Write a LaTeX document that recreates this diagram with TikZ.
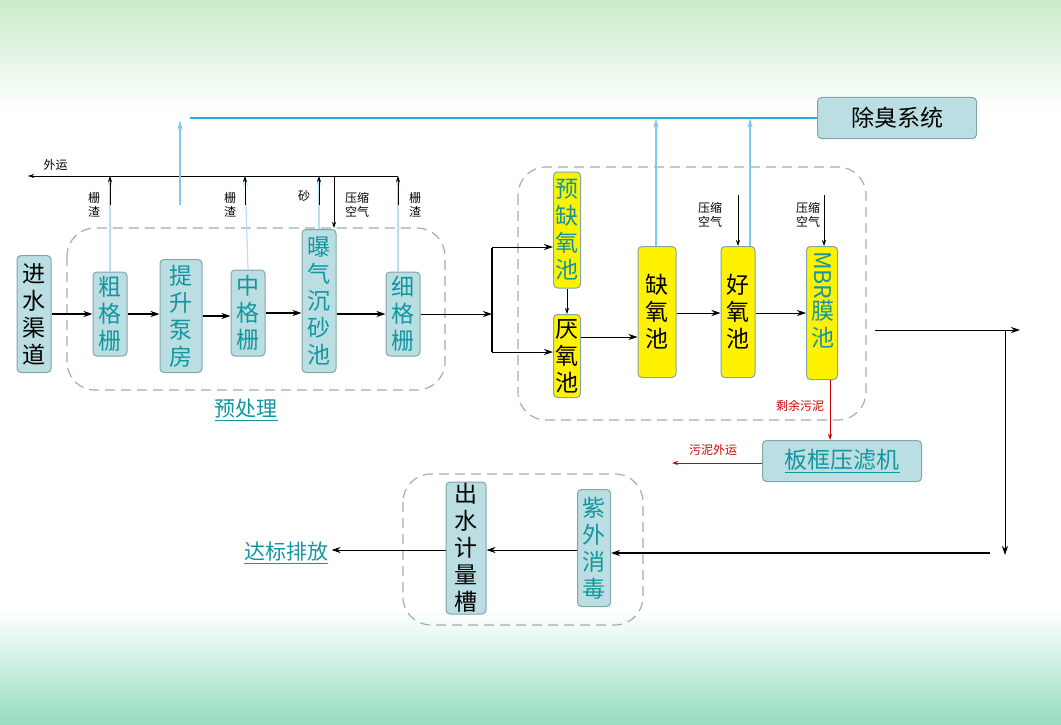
\documentclass[tikz,border=0pt]{standalone}
\usepackage{fontspec}
\setmainfont{Noto Sans CJK SC}
\usetikzlibrary{arrows.meta}
\usetikzlibrary{positioning}
\definecolor{boxfill}{RGB}{186,222,226}
\definecolor{boxline}{RGB}{130,165,170}
\definecolor{tealtext}{RGB}{20,150,160}
\definecolor{dashgray}{RGB}{160,175,178}
\definecolor{skyblue}{RGB}{40,170,225}
\definecolor{bgtop}{RGB}{200,235,200}
\definecolor{bgbot}{RGB}{150,220,190}

\tikzset{
  unit/.style={draw=boxline, fill=boxfill, rounded corners=4pt, line width=1pt, inner sep=0pt, align=center, font=\fontsize{23}{27}\selectfont},
  pool/.style={unit, fill=yellow},
  group/.style={draw=dashgray, dashed, dash pattern=on 10pt off 6pt, line width=1.2pt, rounded corners=28pt},
  flow/.style={-{Stealth[length=9pt,width=6pt]}, line width=1.4pt},
  thin/.style={-{Stealth[length=6pt,width=4pt]}, line width=0.7pt},
  air/.style={-{Stealth[length=10pt,width=5pt]}, draw=skyblue!60, line width=1.2pt},
  small/.style={font=\fontsize{12}{14}\selectfont, align=center},
}

\begin{document}
\begin{tikzpicture}[x=1pt,y=-1pt]
\useasboundingbox (0,0) rectangle (1061,725);
% background
\shade[top color=bgtop, bottom color=white] (0,0) rectangle (1061,110);
\shade[top color=white, bottom color=bgbot] (0,610) rectangle (1061,725);

% groups
\draw[group] (67,228) rectangle (445,390);
\draw[group] (518,167) rectangle (866,420);
\draw[group] (403,474) rectangle (643,625);

% pretreatment units
\node[unit, minimum width=34pt, minimum height=117pt] (inlet) at (34,314) {进\\水\\渠\\道};
\node[unit, minimum width=34pt, minimum height=84pt, text=tealtext] (coarse) at (110,314) {粗\\格\\栅};
\node[unit, minimum width=42pt, minimum height=113pt, text=tealtext] (pump) at (181,316) {提\\升\\泵\\房};
\node[unit, minimum width=34pt, minimum height=86pt, text=tealtext] (medium) at (248,313) {中\\格\\栅};
\node[unit, minimum width=34pt, minimum height=143pt, text=tealtext] (grit) at (319,301) {曝\\气\\沉\\砂\\池};
\node[unit, minimum width=34pt, minimum height=84pt, text=tealtext] (fine) at (403,314) {细\\格\\栅};
\node[font=\fontsize{21}{25}\selectfont, text=tealtext] (pre) at (246,410) {\underline{预处理}};

% biological units
\node[pool, minimum width=27pt, minimum height=116pt, text=tealtext] (preanox) at (567,230) {预\\缺\\氧\\池};
\node[pool, minimum width=27pt, minimum height=83pt] (anaer) at (567,356) {厌\\氧\\池};
\node[pool, minimum width=38pt, minimum height=131pt] (anox) at (657,312) {缺\\氧\\池};
\node[pool, minimum width=34pt, minimum height=131pt] (oxic) at (738,312) {好\\氧\\池};
\node[pool, minimum width=31pt, minimum height=133pt] (mbr) at (822,313) {};
\node[rotate=-90, anchor=west, text=tealtext, inner sep=0pt, font=\fontsize{23}{27}\selectfont] (mbrtext) at (823,251) {MBR};
\node[below=0pt of mbrtext.east, anchor=north, text=tealtext, align=center, inner sep=0pt, font=\fontsize{23}{27}\selectfont] (mbrpool) {膜\\池};

% sludge and deodor
\node[unit, minimum width=159pt, minimum height=41pt] (deodor) at (897,118) {除臭系统};
\node[unit, minimum width=159pt, minimum height=41pt, text=tealtext] (press) at (842,461) {\underline{板框压滤机}};

% effluent
\node[unit, minimum width=40pt, minimum height=132pt] (meter) at (466,548) {出\\水\\计\\量\\槽};
\node[unit, minimum width=33pt, minimum height=117pt, text=tealtext] (uv) at (594,548) {紫\\外\\消\\毒};
\node[font=\fontsize{21}{25}\selectfont, text=tealtext] (out) at (286,553) {\underline{达标排放}};

% helper coordinates
\coordinate (split) at (492,314);
\coordinate (haul) at (28,176);
\coordinate (haulend) at (398,176);
\coordinate (duct) at (190,118);
\coordinate (east) at (1020,330);
\coordinate (down) at (1005,555);
\coordinate (sludgeout) at (672,463);

% main flow
\draw[flow] (inlet) -- (coarse);
\draw[flow] (coarse) -- (pump.west |- coarse);
\draw[flow] (pump) -- (medium.west |- pump);
\draw[flow] (medium) -- (grit.west |- medium);
\draw[flow] (grit.east |- fine) -- (fine);
\draw[flow, line width=1pt] (fine) -- (split);
\draw[line width=1.4pt] (492,248) -- (492,352);
\draw[flow, line width=1pt] (492,247) -- (preanox.west |- 0,247);
\draw[flow, line width=1pt] (492,352) -- (anaer.west |- 0,352);
\draw[thin] (preanox) -- (anaer);
\draw[flow, line width=1pt] (anaer.east |- 0,337) -- (anox.west |- 0,337);
\draw[flow, line width=1pt] (anox.east |- 0,313) -- (oxic.west |- 0,313);
\draw[flow, line width=1pt] (oxic.east |- 0,313) -- (mbr.west |- 0,313);
\draw[flow, line width=1pt] (875,330) -- (east);
\draw[flow, line width=1pt] (1005,330) -- (down);
\draw[flow] (990,553) -- (uv.east |- 0,553);
\draw[flow, line width=1pt] (uv.west |- 0,550) -- (meter.east |- 0,550);
\draw[flow, line width=1pt] (meter.west |- 0,550) -- (out.east |- 0,550);

% screenings hauled away
\draw[thin] (haulend) -- (haul) node[above right=2pt and 12pt, small] {外运};
\draw[air, draw=skyblue!35] (coarse.north) -- (110,176);
\draw[thin] (110,205) -- (110,176);
\draw[air, draw=skyblue!35] (medium.north) -- (245,176);
\draw[thin] (245,205) -- (245,176);
\draw[air, draw=skyblue!35] (grit.north -| 319,0) -- (319,176);
\draw[thin] (319,205) -- (319,176);
\draw[air, draw=skyblue!35] (fine.north -| 398,0) -- (398,176);
\draw[thin] (398,205) -- (398,176);
\draw[thin] (334,176) -- (334,228);
\node[small] at (94,205) {栅\\渣};
\node[small] at (230,205) {栅\\渣};
\node[small] at (304,196) {砂};
\node[small] at (357,205) {压缩\\空气};
\node[small] at (415,205) {栅\\渣};

% deodor duct
\draw[skyblue, line width=2pt] (duct) -- (deodor.west);
\draw[air] (180,205) -- (180,120);
\draw[air] (anox.north -| 656,0) -- (656,118);
\draw[air] (oxic.north -| 750,0) -- (750,118);

% compressed air
\draw[thin] (738,195) -- (oxic.north);
\draw[thin] (824,195) -- (mbr.north -| 824,0);
\node[small] at (710,215) {压缩\\空气};
\node[small] at (808,215) {压缩\\空气};

% sludge
\draw[thin, red!80!black] (830,380) -- (press.north -| 830,0);
\node[small, text=red!80!black] at (800,406) {剩余污泥};
\draw[thin, red!80!black] (press.west |- 0,463) -- (sludgeout);
\node[small, text=red!80!black] at (713,450) {污泥外运};
\end{tikzpicture}
\end{document}
